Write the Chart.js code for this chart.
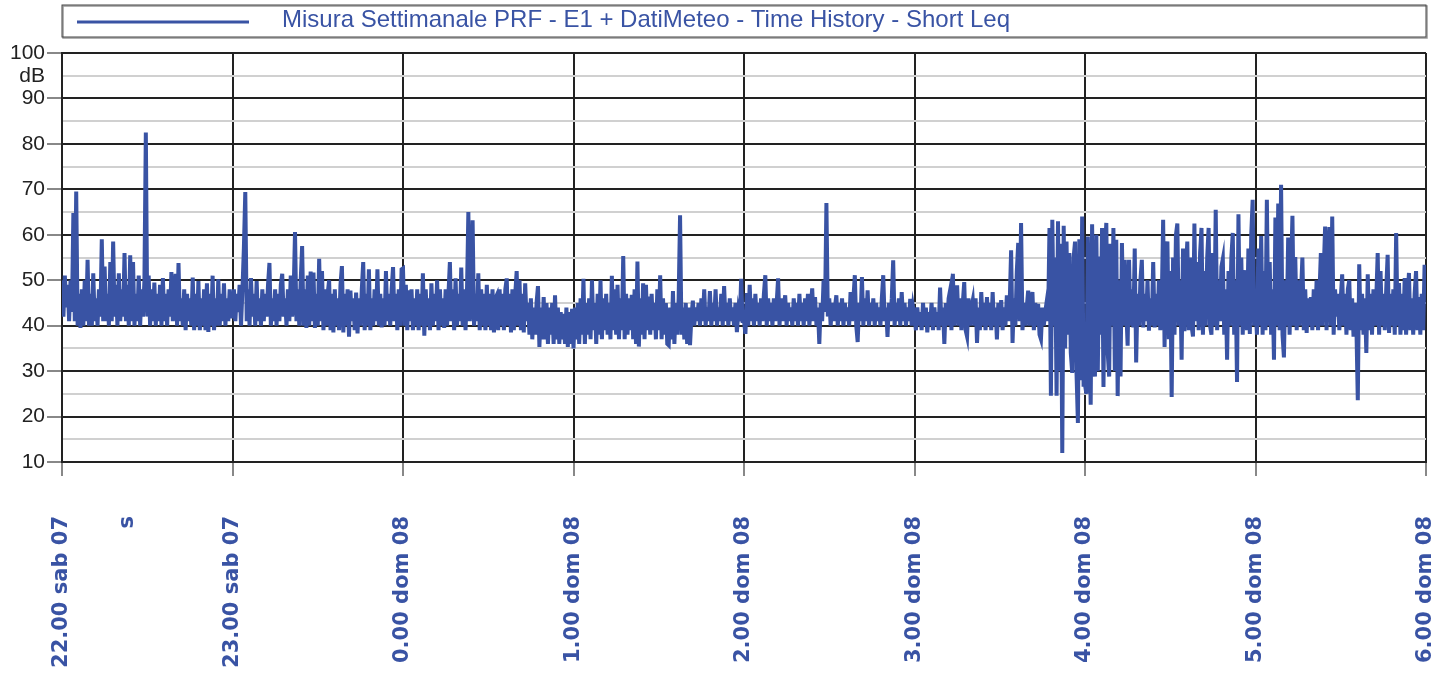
<!DOCTYPE html>
<html>
<head>
<meta charset="utf-8">
<script src="https://cdn.jsdelivr.net/npm/chart.js@4/dist/chart.umd.min.js"></script>
<style>
  body { margin: 0; background: #fff; }
  #wrap { width: 1435px; height: 673px; position: relative; }
</style>
</head>
<body>
<div id="wrap"><canvas id="leq-chart"></canvas></div>
<script>
// Short Leq values (dB), one array per hour (120 samples each)
const hour0 = [50,42,51,44,49,41,50,43,64.8,41, 69.5,40,47,39.5,48,40,50,41,54.5,40, 47,40,51.5,41,46,40,48,42,59,41,
  53,41,47,40,54,41,58.5,42,49,40, 51.5,41,48,42,56,41,49,40,55.5,41, 54,40,47,41,51,40,48,42,50,82.5,
  42,51,40,48,41,49.5,40,47,41,49, 40,50.5,41,47,40,48,42,51.8,41,47, 51.4,40,53.8,41,46,40,48,39,47,41,
  46,40,50.6,39,47,40,49.8,39,46,40, 48,39,49.3,38.6,47,40,51,39,46,40, 50.2,40,47,41,49.3,40,46,41,48,42];
const hour1 = [42,48,41,47,43,49,40,48,57,69.4, 41,48,40,50.5,42,47,40,49.8,41,46, 40,48,41,47,42,49,53.8,40,46,41,
  48,40,47,41,49,51.4,42,46,40,48, 41,51,42,47,60.6,41,48,40,50,57.5, 40,48,39.5,51,40,51.9,41,51.7,39.5,47,
  40,54.7,41,52,39,48,40,47,50,39, 47,38.5,48,40,46,39,49,53.1,38.5,47, 40,48,37.6,47.7,41,46,39,47.3,38.3,46,
  40,48,54,39,47,40,52.4,39,46,40, 48,41,52.4,40,47,39.6,46,40,52,41, 47,40,48,52.9,41,47,39,48,40,52.4];
const hour2 = [52.6,40,49,39,47.8,41,48,39,46,40, 48,39,47,40,51.5,37.8,48,40,46,39, 49.3,40,47,41,50,39,48,40,46,39.5,
  48,40,47,54,41,48,39,50.4,40,47, 41,52.8,40,48,39,47,65,41,46,63.2, 40,47,41,51.5,39,48,40,47,39,49,
  40,47,39,48,38.5,46,46.7,39,48,40, 47,39,48,50.4,40,47,38.5,48,39,47, 52,40,50,39,47,38.5,49.3,41,45,38,
  46,37,44,38,45,48.7,35.3,44,37,46.3, 37,45,36,44,38,45,36,46.7,37,44, 36,43,37,42.6,36,44,35.3,43,36,43.7];
const hour3 = [35,44,37,45,36,46,38,50.3,36,45, 38,46,37,50,39,45,36,47,38,50, 37,46,39,47,38,45,37,51,39,48,
  38,49,37,46,39,55.3,37,47,38,46, 39,46.8,37,48,36,54.1,35.4,46,38,49.3, 37,49,39,46.4,38,47,39,45,37,48,
  39,51.1,37,46,38,45,36,35.7,44,37, 47.6,36,45,38,46,64.3,38,44,37,45, 36,44,35.7,42,45.5,40,44,41,45,40,
  46,41,48,40,44,41,47.6,40,45,41, 48,40,44,41,47,40,48.7,41,45,40, 46,41,44,40,45,38.6,43,41,50.3,41];
const hour4 = [41,38.2,47.2,40,49,41,46,40,47,41, 45,40,46,41,47,51.1,40,46,41,45, 40,46,41,45,50.4,40,46,41,44,46.7,
  40,45,41,44,40,46,41,45,40,47, 41,45,40,46,41,47,40,44,48.2,41, 46.3,40,44,36,45,41,50,43,67,42,
  46,40,45,41,44,46.7,40,45,41,46, 40,45,41,44,40,47.4,41,46,51.1,40, 36.4,45,41,50.7,40,46,41,47.8,40,45,
  41,46,40,45,41,44,40,46,51.1,41, 44,37.5,45,41,46,54.4,40,45,41,46, 40,47.4,41,45,40,44,41,45.9,40,44];
const hour5 = [42,39,44,40,43,39,45,40,44,38.5, 43,40,45,39,44,40,43,39,48.4,40, 44,36,45,40,46,47.7,39,51.4,40,45,
  48.9,40,46,39,45,49.6,39,37.6,46,40, 44,45.6,40,46,36.2,44,39,47.4,40,45, 39,46.3,40,45,39,47.4,40,44,37,45,
  40,45.6,39,44,40,46.7,41,45,56.6,36.2, 46,40,52,58.2,41,62.6,39,45,40,44, 47.7,40,44,47.4,39,45,40,44.8,38,37,
  44,40,43,45.2,41,61.5,24.6,63.3,40,55, 24.6,63,30,58,12,62,35,58.5,38,56, 34,29.6,55,58.5,30,18.6,59,28,64,27];
const hour6 = [27,25,59.6,40,22.6,62.3,35,28.8,60,30, 55.2,38,61.5,26.5,56,62.6,34,28.8,58,40, 61.5,30,58.9,24.5,50,28.8,58.2,40,54.5,44,
  35.6,54.5,40,48,39.6,57,31.9,47,40,50, 54.5,39.6,47,41,50,38.9,46,40,54,39.6, 47,40,50,39,45,63.3,35.3,56,58.5,37,
  52,24.3,55,38,60,62.5,40,50,32.5,57, 38.8,52,58.5,39,55,40,37.6,62.5,41,54, 39,56,61.5,38,52,40,55,61.5,40,38,
  56,40,65.5,39,50,41,53,54.7,38,48, 32.5,52,40,55,60.4,38,50,27.6,64.5,40, 55,38,48,52.2,39,57,38.2,60,67.7,40];
const hour7 = [45,38,57,40,59.7,38,52,39,67.7,40, 54,38,48,32.5,63.8,40,66.9,39,71,38, 33,50,40,59.4,38,52,64.2,40,55.1,39,
  50,40,47,55,39,48,38.4,46,40,46.3, 39,48,40,50,39,47,56,40,52,61.8, 39,55,61.7,40,64,38,48,42,47,39,
  46,51.3,40,47,38,48,50,39,46,37.6, 45,40,23.6,53.5,39,47,38,46,34,51.3, 39,47,38,48,40,46,56,38,52,40,
  47,39,48,55.6,38.4,47,40,48,38,60.4, 40,49.4,38,47,39,50.5,38,46,51.6,39, 46,38,47,52,39,46.3,38,47,39,53.4];

const hours = [hour0, hour1, hour2, hour3, hour4, hour5, hour6, hour7];
const seriesLabel = 'Misura Settimanale PRF - E1 + DatiMeteo - Time History - Short Leq';

// x axis in minutes from 22.00
const tickMinutes = [0, 23, 60, 120, 180, 240, 300, 360, 420, 480];
const tickLabels = ['22.00 sab 07', 's', '23.00 sab 07', '0.00 dom 08', '1.00 dom 08', '2.00 dom 08',
  '3.00 dom 08', '4.00 dom 08', '5.00 dom 08', '6.00 dom 08'];

const blue = '#3953a4';

const points = [];
hours.forEach((values, h) => {
    values.forEach((v, i) => points.push({ x: h * 60 + i * 60 / values.length, y: v }));
});

// legend box across the top
const legendBox = {
    id: 'legendBox',
    afterDraw(chart) {
        const ctx = chart.ctx;
        const left = chart.chartArea.left, right = chart.chartArea.right;
        ctx.save();
        ctx.strokeStyle = '#999';
        ctx.lineWidth = 1.5;
        ctx.strokeRect(left + 1, 6, right - left, 32);
        ctx.strokeStyle = '#444';
        ctx.lineWidth = 1;
        ctx.strokeRect(left, 5, right - left, 32);
        ctx.strokeStyle = blue;
        ctx.lineWidth = 3;
        ctx.beginPath();
        ctx.moveTo(left + 15, 22);
        ctx.lineTo(left + 187, 22);
        ctx.stroke();
        ctx.fillStyle = blue;
        ctx.font = '24px "Liberation Sans", Arial, sans-serif';
        ctx.textBaseline = 'middle';
        ctx.fillText(seriesLabel, left + 220, 20);
        ctx.restore();
    }
};

new Chart(document.querySelector('#leq-chart').getContext('2d'), {
    type: 'line',
    data: {
        datasets: [{
            label: seriesLabel,
            data: points,
            borderColor: blue,
            backgroundColor: blue,
            borderWidth: 4,
            pointRadius: 0,
            tension: 0
        }]
    },
    options: {
        responsive: true,
        maintainAspectRatio: false,
        animation: false,
        layout: { padding: { top: 53, right: 9, left: 0, bottom: 0 } },
        plugins: { legend: { display: false }, tooltip: { enabled: false } },
        scales: {
            x: {
                type: 'linear',
                min: 0,
                max: 480,
                afterBuildTicks: scale => { scale.ticks = tickMinutes.map(v => ({ value: v })); },
                afterFit: scale => { scale.height = 211; scale.paddingLeft = 0; scale.paddingRight = 0; },
                border: { color: '#222', width: 2 },
                grid: {
                    color: ctx => ctx.tick && ctx.tick.value === 23 ? 'rgba(0,0,0,0)' : '#222',
                    lineWidth: 2,
                    tickLength: 14,
                    tickColor: ctx => ctx.tick && ctx.tick.value === 23 ? 'rgba(0,0,0,0)' : '#888'
                },
                ticks: {
                    autoSkip: false,
                    minRotation: 90,
                    maxRotation: 90,
                    padding: 40,
                    color: blue,
                    font: { family: '"DejaVu Sans", sans-serif', size: 21, weight: 'bold' },
                    callback: v => tickLabels[tickMinutes.indexOf(v)]
                }
            },
            y: {
                min: 10,
                max: 100,
                afterFit: scale => { scale.width = 62; },
                border: { color: '#222', width: 2 },
                grid: {
                    color: ctx => ctx.tick && ctx.tick.value % 10 === 0 ? '#222' : '#d0d0d0',
                    lineWidth: 2,
                    tickLength: 15,
                    tickColor: ctx => ctx.tick && ctx.tick.value % 10 === 0 ? '#888' : 'rgba(0,0,0,0)'
                },
                ticks: {
                    stepSize: 5,
                    autoSkip: false,
                    padding: 2,
                    color: '#222',
                    font: { family: '"Liberation Sans", Arial, sans-serif', size: 21 },
                    callback: v => v === 95 ? 'dB' : (v % 10 === 0 ? v : '')
                }
            }
        }
    },
    plugins: [legendBox]
});
</script>
</body>
</html>
